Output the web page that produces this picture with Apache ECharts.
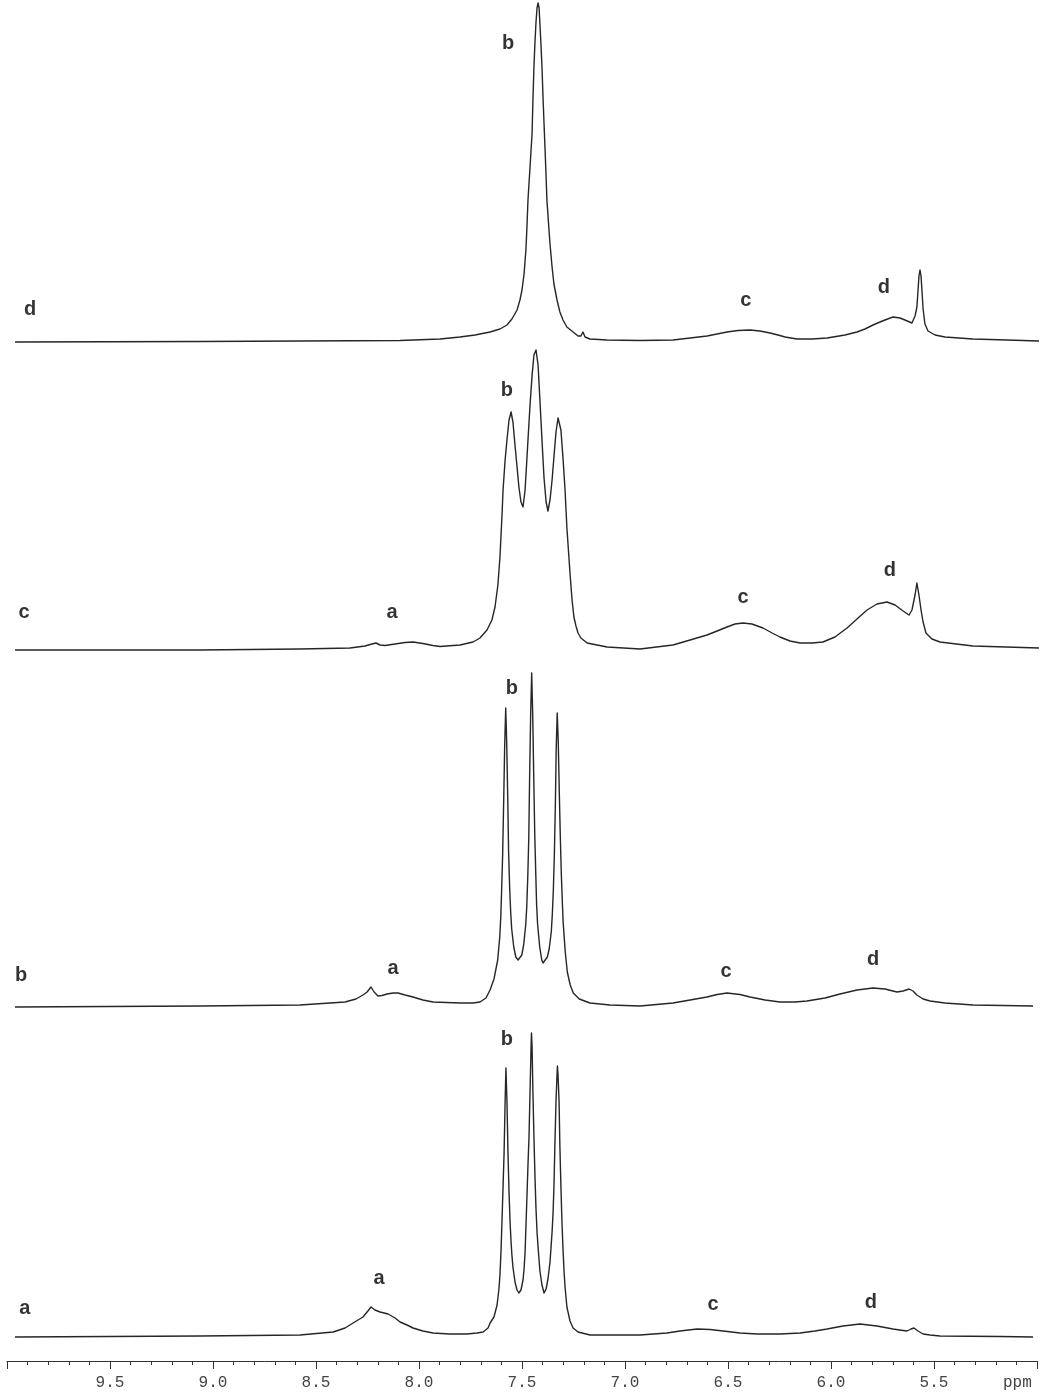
<!DOCTYPE html>
<html><head><meta charset="utf-8">
<script src="https://cdn.jsdelivr.net/npm/echarts@6/dist/echarts.min.js"></script>
<style>html,body{margin:0;padding:0;background:#fff}#c{width:1041px;height:1396px}</style>
</head><body><div id="c"></div>
<script>
// ---- DATA: [ppm, relative intensity] ----
const traceD = [[9.961,0],[9.063,0.5],[8.092,1.5],[7.898,3],[7.801,5],[7.728,7],[7.655,10],[7.607,13],[7.573,17],[7.549,23],[7.524,32],[7.510,42],[7.500,52],[7.490,68],[7.481,92],[7.476,115],[7.471,142],[7.461,175],[7.451,209],[7.447,242],[7.442,275],[7.437,300],[7.432,320],[7.427,334],[7.422,339],[7.417,334],[7.413,318],[7.408,298],[7.403,275],[7.398,245],[7.393,218],[7.388,192],[7.383,165],[7.379,142],[7.369,112],[7.364,98],[7.354,75],[7.345,58],[7.330,42],[7.316,30],[7.301,22],[7.282,15],[7.252,10],[7.228,6],[7.214,6],[7.204,10],[7.194,5],[7.170,3],[7.087,2],[6.927,1.5],[6.767,2],[6.684,4],[6.602,6],[6.553,8],[6.505,10],[6.452,11.5],[6.393,12],[6.345,11],[6.296,9],[6.257,7],[6.223,5],[6.165,3],[6.092,3],[6.019,4],[5.932,7],[5.874,10],[5.835,13],[5.796,17],[5.762,20],[5.738,22],[5.699,25],[5.665,24],[5.641,22],[5.607,19],[5.592,26],[5.583,35],[5.578,50],[5.573,66],[5.568,72],[5.563,66],[5.558,50],[5.553,33],[5.544,18],[5.529,11],[5.495,7],[5.447,5],[5.311,3],[5.146,2],[4.985,1]];
const traceC = [[9.961,0],[9.063,0],[8.578,1],[8.335,2],[8.262,4],[8.228,6],[8.209,7],[8.189,5],[8.165,4.5],[8.116,6],[8.068,7.5],[8.029,8],[7.981,6.5],[7.932,4.5],[7.898,3.5],[7.801,5],[7.738,8],[7.704,12],[7.670,20],[7.646,30],[7.631,43],[7.617,65],[7.607,93],[7.597,135],[7.592,160],[7.582,190],[7.573,210],[7.563,230],[7.553,238],[7.544,228],[7.534,205],[7.524,183],[7.515,163],[7.505,148],[7.495,143],[7.485,160],[7.476,192],[7.471,210],[7.461,245],[7.451,275],[7.442,295],[7.432,300],[7.422,285],[7.413,250],[7.403,210],[7.393,172],[7.383,148],[7.374,139],[7.364,150],[7.354,170],[7.345,193],[7.335,218],[7.325,232],[7.320,232],[7.311,220],[7.301,192],[7.291,160],[7.282,122],[7.272,92],[7.267,77],[7.257,50],[7.248,33],[7.238,24],[7.228,17],[7.214,12],[7.184,7],[7.087,3],[6.927,1],[6.767,5],[6.684,10],[6.602,15],[6.553,19],[6.505,23],[6.466,26],[6.427,27],[6.384,26],[6.330,22],[6.286,17],[6.248,13],[6.199,9],[6.150,7],[6.092,7],[6.039,8],[5.981,13],[5.922,22],[5.874,31],[5.825,40],[5.777,46],[5.728,48],[5.689,45],[5.650,39],[5.621,35],[5.607,40],[5.592,55],[5.583,67],[5.573,55],[5.563,40],[5.553,28],[5.539,17],[5.510,11],[5.471,8],[5.311,4],[4.985,2]];
const traceB = [[9.961,0],[9.063,1],[8.578,2],[8.359,5],[8.306,8],[8.272,12],[8.252,15],[8.233,20],[8.218,15],[8.199,11],[8.180,11.5],[8.155,13],[8.126,14],[8.102,14],[8.068,12],[8.029,10],[7.981,7],[7.932,5],[7.801,4],[7.738,4],[7.704,5],[7.675,9],[7.655,17],[7.636,28],[7.618,47],[7.608,70],[7.603,90],[7.599,116],[7.594,152],[7.589,205],[7.584,262],[7.579,299],[7.574,262],[7.569,206],[7.565,155],[7.560,120],[7.555,95],[7.550,78],[7.540,60],[7.530,50],[7.519,47],[7.501,52],[7.492,62],[7.482,82],[7.477,100],[7.472,130],[7.467,170],[7.463,230],[7.458,292],[7.453,334],[7.448,292],[7.443,230],[7.438,172],[7.433,132],[7.429,102],[7.424,82],[7.414,60],[7.404,47],[7.398,44],[7.377,50],[7.368,58],[7.358,75],[7.353,92],[7.348,116],[7.343,152],[7.338,203],[7.334,258],[7.329,294],[7.324,265],[7.319,215],[7.314,170],[7.309,132],[7.304,104],[7.300,84],[7.290,55],[7.280,35],[7.266,22],[7.251,14],[7.222,8],[7.170,4],[7.073,2],[6.927,1],[6.767,4],[6.684,7],[6.602,10],[6.553,12.5],[6.505,14],[6.442,12.5],[6.393,10],[6.320,7],[6.248,5],[6.175,5],[6.117,6],[6.029,9],[5.956,13],[5.874,17],[5.796,19],[5.738,18],[5.680,15],[5.650,16],[5.621,18],[5.602,16],[5.583,12],[5.553,8],[5.519,6],[5.447,4],[5.311,2],[5.019,1]];
const traceA = [[9.961,0],[9.063,1],[8.578,2],[8.417,5],[8.359,9],[8.320,14],[8.272,20],[8.248,26],[8.233,30],[8.214,27],[8.189,25],[8.150,23],[8.116,19],[8.092,15],[8.058,12],[8.029,9],[7.981,6],[7.932,4],[7.850,3],[7.767,3],[7.718,4],[7.689,5],[7.665,9],[7.655,14],[7.636,20],[7.621,32],[7.612,48],[7.607,62],[7.602,85],[7.597,117],[7.592,150],[7.587,184],[7.582,235],[7.578,269],[7.573,235],[7.568,184],[7.563,145],[7.558,115],[7.553,95],[7.549,82],[7.544,70],[7.534,55],[7.524,47],[7.515,44],[7.505,47],[7.495,57],[7.490,68],[7.485,85],[7.481,110],[7.476,140],[7.471,172],[7.466,200],[7.461,245],[7.456,290],[7.454,304],[7.451,290],[7.447,245],[7.442,200],[7.437,160],[7.432,128],[7.427,105],[7.422,90],[7.413,66],[7.403,52],[7.393,44],[7.383,48],[7.374,58],[7.364,75],[7.354,105],[7.349,125],[7.345,150],[7.340,195],[7.335,235],[7.330,262],[7.328,271],[7.325,262],[7.320,235],[7.316,190],[7.311,150],[7.306,115],[7.301,88],[7.296,66],[7.291,50],[7.282,30],[7.267,16],[7.252,9],[7.228,5],[7.170,2],[6.927,2],[6.796,4],[6.733,6],[6.650,8],[6.587,7.5],[6.524,6],[6.442,4],[6.359,3],[6.248,3],[6.150,4],[6.078,6],[6.019,8],[5.942,11],[5.859,13],[5.777,11],[5.699,8],[5.650,6.5],[5.631,6],[5.612,8],[5.597,9],[5.578,6],[5.553,3],[5.519,2],[5.471,1],[5.180,0.5],[5.019,0]];

// peak annotations: [ppm, intensity, text]
const labelsD = [[9.888,33,'d'],[7.568,299,'b'],[6.413,42,'c'],[5.743,55,'d']];
const labelsC = [[9.917,38,'c'],[8.131,38,'a'],[7.573,260,'b'],[6.427,53,'c'],[5.714,80,'d']];
const labelsB = [[9.932,32,'b'],[8.126,39,'a'],[7.549,319,'b'],[6.510,36,'c'],[5.796,48,'d']];
const labelsA = [[9.913,29,'a'],[8.194,59,'a'],[7.573,298,'b'],[6.573,33,'c'],[5.806,35,'d']];

const tickLabels = ['9.5','9.0','8.5','8.0','7.5','7.0','6.5','6.0','5.5'];
const axisUnit = 'ppm';

// ---- LAYOUT ----
const traces = [traceD, traceC, traceB, traceA];
const labelSets = [labelsD, labelsC, labelsB, labelsA];
const baselines = [342, 650, 1007, 1337];
const panelH = 340;
const X_MIN = 5.0, X_MAX = 10.0;

const grids = [], xAxes = [], yAxes = [], series = [];
traces.forEach((t, i) => {
  grids.push({left: 7, width: 1030, top: baselines[i] - panelH, height: panelH});
  const last = i === traces.length - 1;
  xAxes.push({
    type: 'value', gridIndex: i, min: X_MIN, max: X_MAX, inverse: true, interval: 0.5,
    show: last, position: 'bottom', offset: last ? 24 : 0,
    axisLine: {show: last, onZero: false, lineStyle: {color: '#333', width: 1}},
    axisTick: {show: last, length: 8, lineStyle: {color: '#333'}},
    minorTick: {show: last, splitNumber: 5, length: 4, lineStyle: {color: '#333'}},
    splitLine: {show: false},
    axisLabel: {
      show: last, margin: 14, showMinLabel: false, showMaxLabel: false,
      fontFamily: 'Liberation Mono', fontSize: 16, color: '#444',
      formatter: v => { const s = v.toFixed(1); return tickLabels.includes(s) ? s : ''; }
    }
  });
  yAxes.push({type: 'value', gridIndex: i, min: 0, max: panelH, show: false});
  series.push({
    type: 'line', xAxisIndex: i, yAxisIndex: i, data: t, showSymbol: false, symbol: 'none',
    smooth: false, clip: false, silent: true,
    lineStyle: {color: '#262626', width: 1.4, join: 'round'}
  });
  series.push({
    type: 'scatter', xAxisIndex: i, yAxisIndex: i, symbolSize: 1, silent: true,
    itemStyle: {color: 'rgba(0,0,0,0)'},
    data: labelSets[i].map(l => ({value: [l[0], l[1]], name: l[2]})),
    label: {show: true, position: 'inside', formatter: '{b}', fontFamily: 'Liberation Sans',
      fontWeight: 'bold', fontSize: 20, color: '#000'}
  });
});

const chart = echarts.init(document.getElementById('c'), null, {renderer: 'canvas'});
chart.setOption({
  animation: false,
  backgroundColor: '#fff',
  grid: grids, xAxis: xAxes, yAxis: yAxes, series: series,
  graphic: [{type: 'text', left: 1003, top: 1375,
    style: {text: axisUnit, fontFamily: 'Liberation Mono', fontSize: 16, fill: '#444'}}]
});
</script></body></html>
